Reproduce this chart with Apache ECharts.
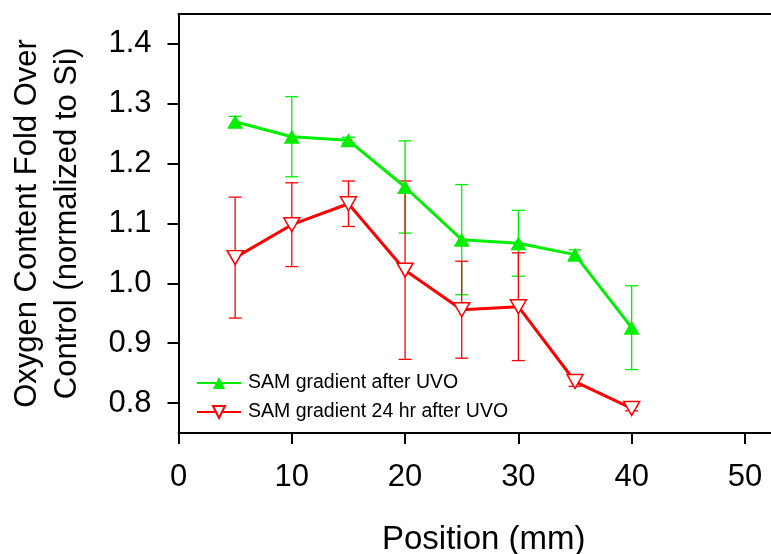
<!DOCTYPE html>
<html>
<head>
<meta charset="utf-8">
<script src="https://cdn.jsdelivr.net/npm/echarts@6/dist/echarts.min.js"></script>
<style>html,body{margin:0;padding:0;background:#fff;}#c{width:771px;height:554px;}</style>
</head>
<body>
<div id="c"></div>
<script>
var positions = [5, 10, 15, 20, 25, 30, 35, 40];
var afterUVO = [1.270, 1.245, 1.239, 1.161, 1.073, 1.067, 1.048, 0.926];
var afterUVOErr = [0.009, 0.067, 0.005, 0.077, 0.092, 0.055, 0.008, 0.070];
var after24 = [1.043, 1.098, 1.133, 1.022, 0.956, 0.961, 0.836, 0.791];
var after24Err = [0.101, 0.070, 0.038, 0.149, 0.081, 0.090, 0.008, 0.004];
var xTicks = [0, 10, 20, 30, 40, 50];
var yTicks = [0.8, 0.9, 1.0, 1.1, 1.2, 1.3, 1.4];
var seriesNames = ['SAM gradient after UVO', 'SAM gradient 24 hr after UVO'];

var FONT = 'Liberation Sans, Arial, Helvetica, sans-serif';
var GREEN = '#00ee00', RED = '#ff0000';

function errData(means, errs) {
  return positions.map(function (x, i) { return [x, means[i] - errs[i], means[i] + errs[i]]; });
}
function errRender(color) {
  return function (params, api) {
    var x = api.value(0), lo = api.value(1), hi = api.value(2);
    var pl = api.coord([x, lo]), ph = api.coord([x, hi]);
    var w = 6.5;
    var st = { stroke: color, lineWidth: 1.3 };
    return { type: 'group', children: [
      { type: 'line', shape: { x1: ph[0], y1: ph[1], x2: pl[0], y2: pl[1] }, style: st },
      { type: 'line', shape: { x1: ph[0] - w, y1: ph[1], x2: ph[0] + w, y2: ph[1] }, style: st },
      { type: 'line', shape: { x1: pl[0] - w, y1: pl[1], x2: pl[0] + w, y2: pl[1] }, style: st }
    ]};
  };
}

var chart = echarts.init(document.getElementById('c'), null, { renderer: 'canvas' });
chart.setOption({
  animation: false,
  backgroundColor: '#fff',
  textStyle: { fontFamily: FONT },
  grid: { left: 178.5, right: 0, top: 14, bottom: 121, containLabel: false, outerBoundsMode: 'none' },
  legend: {
    left: 191, top: 368, orient: 'vertical', itemWidth: 44, itemHeight: 15, itemGap: 9,
    data: seriesNames,
    textStyle: { fontSize: 19.5, fontFamily: FONT, color: '#000', padding: [0, 0, 0, 2] }
  },
  xAxis: [{
    type: 'value', min: 0, max: 52.3, position: 'bottom',
    axisLine: { show: true, onZero: false, lineStyle: { color: '#000', width: 2 } },
    axisTick: { show: true, length: 11, lineStyle: { color: '#000', width: 2 }, customValues: xTicks },
    axisLabel: { fontSize: 31, color: '#000', margin: 29, fontFamily: FONT, customValues: xTicks },
    splitLine: { show: false },
    name: 'Position (mm)', nameLocation: 'middle', nameGap: 90,
    nameTextStyle: { fontSize: 33, color: '#000', fontFamily: FONT, padding: [0, 0, 0, 18] }
  }, {
    type: 'value', min: 0, max: 52.3, position: 'top',
    axisLine: { show: true, onZero: false, lineStyle: { color: '#000', width: 2 } },
    axisTick: { show: false }, axisLabel: { show: false }, splitLine: { show: false }
  }],
  yAxis: {
    type: 'value', min: 0.75, max: 1.45,
    axisLine: { show: true, onZero: false, lineStyle: { color: '#000', width: 2 } },
    axisTick: { show: true, length: 11, lineStyle: { color: '#000', width: 2 }, customValues: yTicks },
    axisLabel: { fontSize: 31, color: '#000', margin: 27, fontFamily: FONT, customValues: yTicks,
      formatter: function (v) { return v.toFixed(1); } },
    splitLine: { show: false },
    name: 'Oxygen Content Fold Over\nControl (normalized to Si)', nameLocation: 'middle', nameGap: 85,
    nameRotate: 90,
    nameTextStyle: { fontSize: 31, lineHeight: 40, color: '#000', fontFamily: FONT, align: 'center',
      padding: [0, 0, 6, 0] }
  },
  series: [
    { type: 'custom', name: 'errG', renderItem: errRender(GREEN), data: errData(afterUVO, afterUVOErr),
      encode: { x: 0, y: [1, 2] }, z: 2, silent: true },
    { type: 'custom', name: 'errR', renderItem: errRender(RED), data: errData(after24, after24Err),
      encode: { x: 0, y: [1, 2] }, z: 2, silent: true },
    { type: 'line', name: seriesNames[0], data: positions.map(function (x, i) { return [x, afterUVO[i]]; }),
      symbol: 'triangle', symbolSize: [16, 14], showAllSymbol: true,
      lineStyle: { color: GREEN, width: 3 }, itemStyle: { color: GREEN, borderWidth: 0 }, z: 4 },
    { type: 'line', name: seriesNames[1], data: positions.map(function (x, i) { return [x, after24[i]]; }),
      symbol: 'path://M0,0 L10,0 L5,9 Z', symbolSize: [16, 14], showAllSymbol: true,
      lineStyle: { color: RED, width: 3 }, itemStyle: { color: '#fff', borderColor: RED, borderWidth: 1.5 }, z: 3 }
  ]
});
</script>
</body>
</html>
